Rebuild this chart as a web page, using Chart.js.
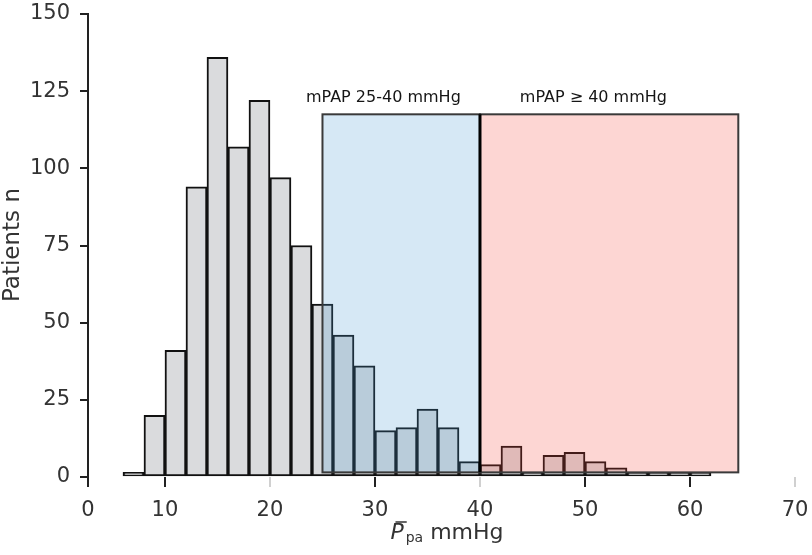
<!DOCTYPE html>
<html>
<head>
<meta charset="utf-8">
<script src="https://cdn.jsdelivr.net/npm/chart.js@4.4.1/dist/chart.umd.min.js"></script>
<style>
  html, body { margin: 0; padding: 0; background: #ffffff; }
  #wrap { width: 812px; height: 555px; position: relative; }
</style>
</head>
<body>
<div id="wrap"><canvas id="chart"></canvas></div>
<script>
// histogram bins (mmHg, 2 mmHg wide) and patient counts
const binStart = [6, 8, 10, 12, 14, 16, 18, 20, 22, 24, 26, 28, 30, 32, 34, 36, 38, 40, 42, 44, 46, 48, 50, 52, 54, 56, 58, 60];
const patients = [1.5, 20, 41, 94, 136, 107, 122, 97, 75, 56, 46, 36, 15, 16, 22, 16, 5, 4, 10, 1.5, 7, 8, 5, 3, 1.5, 1.5, 1.5, 1.5];
const binWidth = 2;

// axes
const xStart = 2.67;          // where the y axis sits (labelled "0" in the figure)
const xEnd = 70;
const xTicks = [10, 20, 30, 40, 50, 60, 70];
const xFaintTicks = [20, 40, 70];
const yTicks = [0, 25, 50, 75, 100, 125, 150];

// shaded mPAP zones
const zoneLabels = ["mPAP 25-40 mmHg", "mPAP \u2265 40 mmHg"];
const zoneFrom = [25, 40];
const zoneTo = [40, 64.6];
const zoneBottom = 1.5;
const zoneTop = 117.5;
const zoneLabelX = [30.8, 50.8];
const zoneLabelY = 122.8;

const FONT = "'DejaVu Sans', sans-serif";
const TEXT = "#333333";

// keep the plot area where the figure has it
function noAutoPadding (scale) {
  scale.paddingTop = 0;
  scale.paddingBottom = 0;
  scale.paddingLeft = 0;
  scale.paddingRight = 0;
}

const zonePlugin = {
  id: "zones",
  afterDatasetsDraw (chart) {
    const { ctx } = chart;
    const x = chart.scales.x;
    const y = chart.scales.y;
    const fills = ["rgba(69, 150, 210, 0.22)", "rgba(246, 69, 55, 0.22)"];
    ctx.save();
    zoneFrom.forEach((from, i) => {
      const x0 = x.getPixelForValue(from);
      const x1 = x.getPixelForValue(zoneTo[i]);
      const y0 = y.getPixelForValue(zoneTop);
      const y1 = y.getPixelForValue(zoneBottom);
      ctx.fillStyle = fills[i];
      ctx.fillRect(x0, y0, x1 - x0, y1 - y0);
      ctx.strokeStyle = "#3a3a3a";
      ctx.lineWidth = 2;
      ctx.strokeRect(x0, y0, x1 - x0, y1 - y0);
    });
    // divider at 40 mmHg
    const xd = x.getPixelForValue(zoneTo[0]);
    ctx.strokeStyle = "#000000";
    ctx.lineWidth = 3;
    ctx.beginPath();
    ctx.moveTo(xd, y.getPixelForValue(zoneTop));
    ctx.lineTo(xd, y.getPixelForValue(zoneBottom));
    ctx.stroke();

    ctx.fillStyle = "#151515";
    ctx.font = "16px " + FONT;
    ctx.textAlign = "center";
    ctx.textBaseline = "middle";
    zoneLabels.forEach((txt, i) => {
      ctx.fillText(txt, x.getPixelForValue(zoneLabelX[i]), y.getPixelForValue(zoneLabelY));
    });
    ctx.restore();
  },

  afterDraw (chart) {
    const { ctx } = chart;
    ctx.save();
    ctx.fillStyle = TEXT;
    ctx.textBaseline = "middle";

    // y title
    ctx.save();
    ctx.translate(13, 245);
    ctx.rotate(-Math.PI / 2);
    ctx.textAlign = "center";
    ctx.font = "23px " + FONT;
    ctx.fillText("Patients n", 0, 0);
    ctx.restore();

    // x title: P (italic, with bar) + subscript pa + mmHg
    const big = "22px " + FONT;
    const ital = "italic 22px " + FONT;
    const small = "14px " + FONT;
    ctx.textAlign = "left";
    ctx.font = ital;
    const wP = ctx.measureText("P").width;
    ctx.font = small;
    const wSub = ctx.measureText("pa").width;
    ctx.font = big;
    const wRest = ctx.measureText(" mmHg").width;
    const total = wP + 2 + wSub + wRest;
    let cx = 447 - total / 2;
    const cy = 533;
    ctx.font = ital;
    ctx.fillText("P", cx, cy);
    ctx.strokeStyle = TEXT;
    ctx.lineWidth = 1.5;
    ctx.beginPath();
    ctx.moveTo(cx + 5, cy - 11);
    ctx.lineTo(cx + wP + 3, cy - 11);
    ctx.stroke();
    cx += wP + 2;
    ctx.font = small;
    ctx.fillText("pa", cx, cy + 5);
    cx += wSub;
    ctx.font = big;
    ctx.fillText(" mmHg", cx, cy);
    ctx.restore();
  }
};

const bars = binStart.map((s, i) => ({ x: s + binWidth / 2, y: patients[i] }));

new Chart(document.getElementById("chart"), {
  type: "bar",
  data: {
    datasets: [{
      data: bars,
      backgroundColor: "#dadbdd",
      borderColor: "#111111",
      borderWidth: 2,
      borderSkipped: false,
      barPercentage: 1,
      categoryPercentage: 1
    }]
  },
  options: {
    responsive: true,
    maintainAspectRatio: false,
    animation: false,
    events: [],
    layout: { padding: { top: 14, right: 17, left: 0, bottom: 0 } },
    plugins: {
      legend: { display: false },
      tooltip: { enabled: false }
    },
    scales: {
      x: {
        type: "linear",
        min: xStart,
        max: xEnd,
        offset: false,
        afterFit (scale) {
          scale.height = 78;
          noAutoPadding(scale);
        },
        afterBuildTicks (scale) {
          scale.ticks = [xStart, ...xTicks].map((v) => ({ value: v }));
        },
        border: { display: false },
        grid: {
          offset: false,
          drawOnChartArea: false,
          drawTicks: true,
          tickLength: 10,
          lineWidth: 2,
          color: (c) => (c.tick && xFaintTicks.includes(c.tick.value) ? "#d0d0d0" : "#222222")
        },
        ticks: {
          autoSkip: false,
          maxRotation: 0,
          padding: 11,
          color: TEXT,
          font: { family: FONT, size: 21 },
          callback: (value, index) => (index === 0 ? "0" : value)
        }
      },
      y: {
        min: 0,
        max: 150,
        afterFit (scale) {
          scale.width = 88;
          noAutoPadding(scale);
        },
        afterBuildTicks (scale) {
          scale.ticks = yTicks.map((v) => ({ value: v }));
        },
        border: { display: true, color: "#222222", width: 2 },
        grid: {
          drawOnChartArea: false,
          drawTicks: true,
          tickLength: 8,
          lineWidth: 2,
          color: "#222222"
        },
        ticks: {
          padding: 10,
          color: TEXT,
          font: { family: FONT, size: 21 }
        }
      }
    }
  },
  plugins: [zonePlugin]
});
</script>
</body>
</html>
